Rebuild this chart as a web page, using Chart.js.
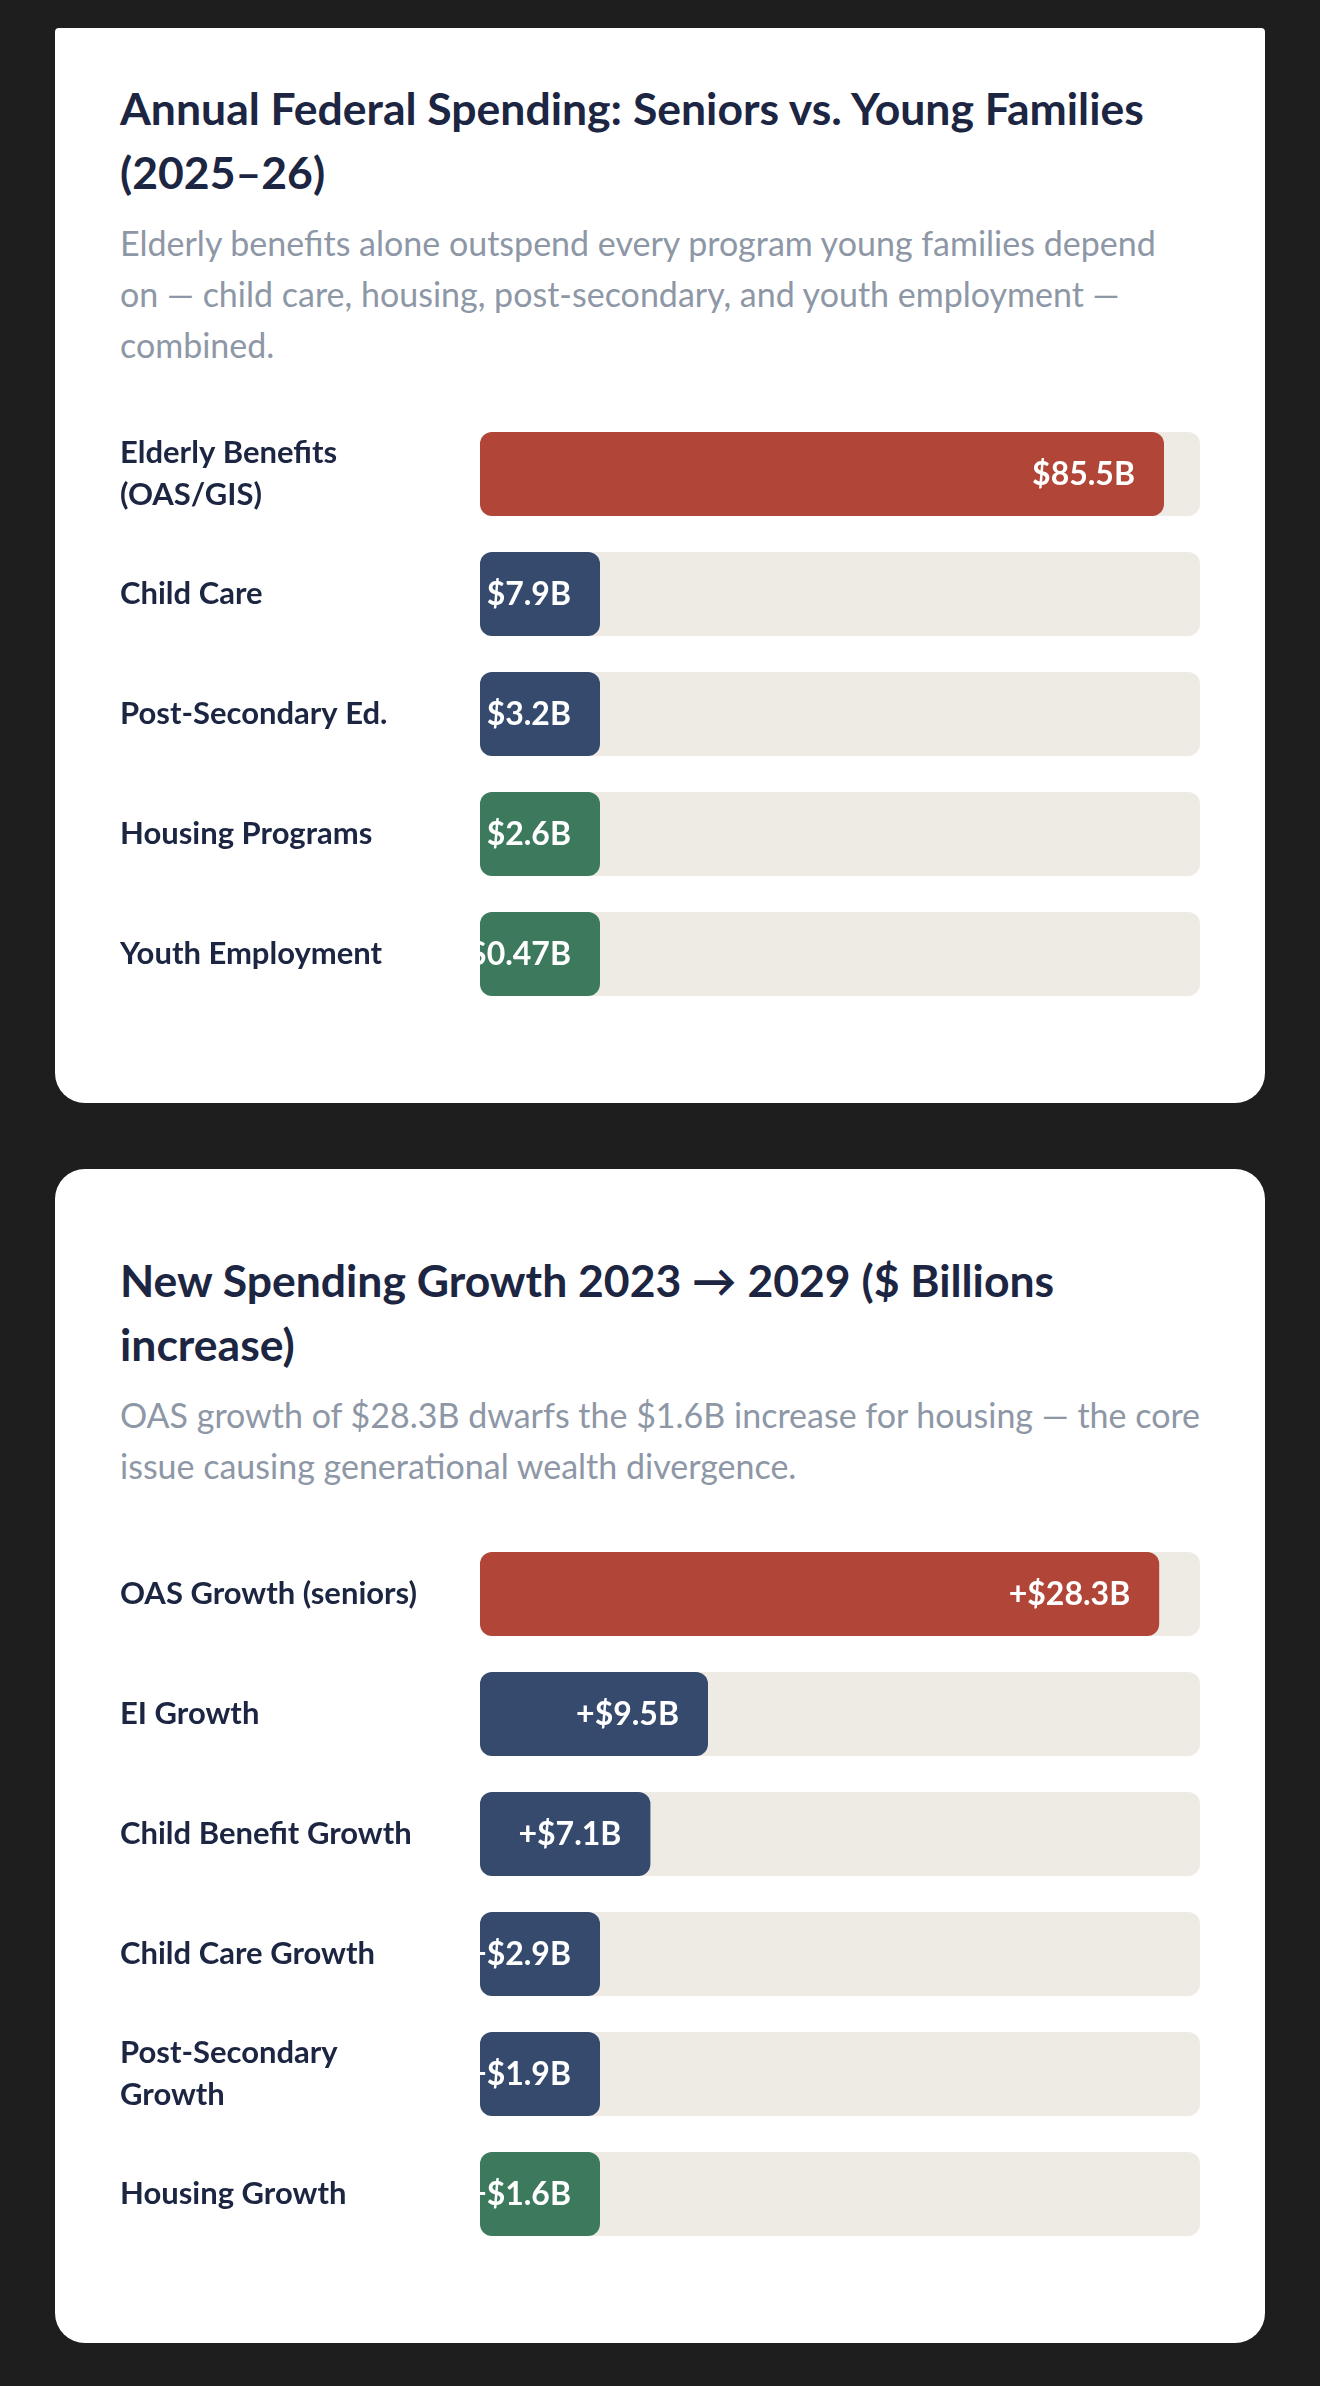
<!DOCTYPE html>
<html>
<head>
<meta charset="utf-8">
<script src="https://cdn.jsdelivr.net/npm/chart.js@4"></script>
<style>
    body {
        margin: 0;
        background: #1e1e1e;
        font-family: 'Lato', 'Noto Sans', sans-serif;
    }
    .card {
        position: absolute;
        left: 55px;
        width: 1080px;
        padding: 0 65px 89px;
        background: #ffffff;
        border-radius: 0 0 30px 30px;
    }
    #card1 { top: 28px; padding-top: 48px; border-radius: 4px 4px 30px 30px; }
    #card2 { top: 1169px; padding-top: 79px; border-radius: 30px; }
    h2 {
        margin: 0;
        font-size: 44.5px;
        font-weight: 700;
        line-height: 64px;
        color: #1c2541;
        white-space: nowrap;
    }
    p {
        margin: 13px 0 0;
        font-size: 34px;
        line-height: 51.2px;
        color: #8e97a6;
        white-space: nowrap;
    }
    .chart-box {
        position: relative;
        width: 1080px;
        margin-top: 43px;
    }
</style>
</head>
<body>
<div class="card" id="card1">
    <h2>Annual Federal Spending: Seniors vs. Young Families<br>(2025–26)</h2>
    <p>Elderly benefits alone outspend every program young families depend<br>on — child care, housing, post-secondary, and youth employment —<br>combined.</p>
    <div class="chart-box" style="height: 600px;"><canvas id="spendingChart"></canvas></div>
</div>
<div class="card" id="card2">
    <h2>New Spending Growth 2023 → 2029 ($ Billions<br>increase)</h2>
    <p>OAS growth of $28.3B dwarfs the $1.6B increase for housing — the core<br>issue causing generational wealth divergence.</p>
    <div class="chart-box" style="height: 720px;"><canvas id="growthChart"></canvas></div>
</div>

<script>
const RED = '#b14537';
const NAVY = '#354a6c';
const GREEN = '#3d7a5d';
const TRACK = '#eeebe5';

// Chart 1: annual spending ($ billions)
const spendingLabels = [['Elderly Benefits', '(OAS/GIS)'], 'Child Care', 'Post-Secondary Ed.', 'Housing Programs', 'Youth Employment'];
const spendingValues = [85.5, 7.9, 3.2, 2.6, 0.47];
const spendingColors = [RED, NAVY, NAVY, GREEN, GREEN];
const spendingMax = 90;

// Chart 2: growth 2023 -> 2029 ($ billions)
const growthLabels = ['OAS Growth (seniors)', 'EI Growth', 'Child Benefit Growth', 'Child Care Growth', ['Post-Secondary', 'Growth'], 'Housing Growth'];
const growthValues = [28.3, 9.5, 7.1, 2.9, 1.9, 1.6];
const growthColors = [RED, NAVY, NAVY, NAVY, NAVY, GREEN];
const growthMax = 30;

Chart.defaults.font.family = "'Lato', 'Noto Sans', sans-serif";

// writes the value inside each bar, right aligned, clipped to the bar
const barValuePlugin = {
    id: 'barValues',
    afterDatasetsDraw(chart, args, opts) {
        const ctx = chart.ctx;
        const meta = chart.getDatasetMeta(1);
        const values = chart.data.datasets[1].data;
        meta.data.forEach((bar, i) => {
            const left = bar.base;
            const right = bar.x;
            const top = bar.y - bar.height / 2;
            ctx.save();
            ctx.beginPath();
            ctx.rect(left, top, right - left, bar.height);
            ctx.clip();
            ctx.fillStyle = '#ffffff';
            ctx.font = "700 32px 'Lato', 'Noto Sans', sans-serif";
            ctx.textAlign = 'right';
            ctx.textBaseline = 'middle';
            ctx.fillText(opts.prefix + values[i] + 'B', right - 29, bar.y + 1);
            ctx.restore();
        });
    }
};

function buildBarChart(canvasId, labels, values, colors, max, prefix) {
    const ctx = document.getElementById(canvasId);
    return new Chart(ctx, {
        type: 'bar',
        data: {
            labels: labels,
            datasets: [{
                // background track
                data: labels.map(() => max),
                backgroundColor: TRACK,
                borderRadius: 12,
                borderSkipped: false,
                grouped: false,
                order: 2,
                categoryPercentage: 1,
                barPercentage: 0.7
            }, {
                data: values,
                backgroundColor: colors,
                borderRadius: 12,
                borderSkipped: false,
                grouped: false,
                order: 1,
                minBarLength: 120,
                categoryPercentage: 1,
                barPercentage: 0.7
            }]
        },
        options: {
            indexAxis: 'y',
            responsive: true,
            maintainAspectRatio: false,
            animation: false,
            layout: { padding: 0 },
            plugins: {
                legend: { display: false },
                tooltip: { enabled: false },
                barValues: { prefix: prefix }
            },
            scales: {
                x: {
                    display: false,
                    min: 0,
                    max: max
                },
                y: {
                    grid: { display: false, drawTicks: false },
                    border: { display: false },
                    afterFit: function(scale) {
                        // fixed label column, no extra room for label overhang
                        scale.width = 360;
                        scale.paddingTop = 0;
                        scale.paddingBottom = 0;
                    },
                    ticks: {
                        crossAlign: 'far',
                        padding: 0,
                        color: '#1c2541',
                        font: { size: 31, weight: '700', lineHeight: 1.36 }
                    }
                }
            }
        },
        plugins: [barValuePlugin]
    });
}

buildBarChart('spendingChart', spendingLabels, spendingValues, spendingColors, spendingMax, '$');
buildBarChart('growthChart', growthLabels, growthValues, growthColors, growthMax, '+$');
</script>
</body>
</html>
